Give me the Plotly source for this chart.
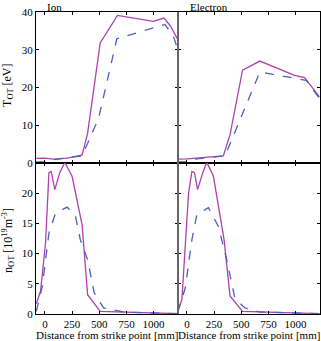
import plotly.graph_objects as go
from plotly.subplots import make_subplots

# Ion temperature
ion_T_sim_x = [-79, -9, 82, 204, 342, 393, 509, 668, 997, 1095, 1156, 1226]
ion_T_sim_y = [1.2, 1.3, 1.05, 1.3, 2.1, 7.9, 31.8, 39.1, 37.5, 38.4, 36.3, 32.5]
ion_T_exp_x = [-79, 6, 82, 204, 342, 494, 662, 1104, 1180, 1226]
ion_T_exp_y = [0.3, 0.3, 0.9, 1.4, 1.9, 11.8, 32.9, 36.7, 33.8, 29.8]

# Electron temperature
el_T_sim_x = [-85, 0, 335, 397, 512, 671, 991, 1083, 1220]
el_T_sim_y = [1.05, 1.1, 1.9, 7.5, 24.6, 27.0, 23.2, 22.6, 17.5]
el_T_exp_x = [-85, 0, 92, 351, 671, 1098, 1220]
el_T_exp_y = [0.3, 0.3, 1.1, 1.9, 24.1, 21.9, 17.1]

# Ion density
ion_n_sim_x = [-79, -40, 6, 37, 58, 91, 137, 183, 250, 342, 393, 509, 1226]
ion_n_sim_y = [1.7, 3.8, 11.8, 23.4, 23.6, 20.6, 23.4, 25.1, 22.8, 14.8, 3.2, 0.44, 0.05]
ion_n_exp_x = [-79, -24, 37, 98, 204, 281, 326, 393, 454, 540, 723, 1226]
ion_n_exp_y = [0.44, 4.6, 13.4, 16.7, 17.7, 16.2, 12.3, 9.0, 3.5, 1.0, 0.33, 0.05]

# Electron density
el_n_sim_x = [-85, -46, 15, 46, 70, 98, 146, 183, 244, 342, 397, 512, 1220]
el_n_sim_y = [0.4, 2.4, 20.0, 23.6, 23.4, 20.6, 23.4, 25.1, 22.8, 12.3, 3.0, 0.44, 0.05]
el_n_exp_x = [-85, -15, 46, 92, 198, 290, 366, 442, 534, 671, 1220]
el_n_exp_y = [0.3, 4.3, 12.3, 16.5, 17.6, 14.5, 9.0, 2.6, 1.0, 0.33, 0.05]

x_ticks = [0, 250, 500, 750, 1000]
T_ticks = [0, 10, 20, 30, 40]
n_ticks = [0, 5, 10, 15, 20]

SIM_COLOR = "#b040b0"
EXP_COLOR = "#4a5fc0"
FONT = "Liberation Serif"

fig = make_subplots(rows=2, cols=2, horizontal_spacing=0, vertical_spacing=0)

panels = [
    (1, 1, ion_T_sim_x, ion_T_sim_y, ion_T_exp_x, ion_T_exp_y),
    (1, 2, el_T_sim_x, el_T_sim_y, el_T_exp_x, el_T_exp_y),
    (2, 1, ion_n_sim_x, ion_n_sim_y, ion_n_exp_x, ion_n_exp_y),
    (2, 2, el_n_sim_x, el_n_sim_y, el_n_exp_x, el_n_exp_y),
]
for r, c, sx, sy, ex, ey in panels:
    fig.add_trace(go.Scatter(x=sx, y=sy, mode="lines",
                             line=dict(color=SIM_COLOR, width=1.3),
                             showlegend=False), row=r, col=c)
    fig.add_trace(go.Scatter(x=ex, y=ey, mode="lines",
                             line=dict(color=EXP_COLOR, width=1.3, dash="dash"),
                             showlegend=False), row=r, col=c)

for r in (1, 2):
    for c in (1, 2):
        fig.update_xaxes(row=r, col=c, range=[-82, 1225], tickvals=x_ticks,
                         showticklabels=(r == 2), ticks="inside", ticklen=3,
                         tickcolor="black", showline=True, linecolor="black",
                         linewidth=1, mirror="ticks", showgrid=False, zeroline=False,
                         automargin=False,
                         tickfont=dict(family=FONT, size=11, color="black"))
        if r == 1:
            fig.update_yaxes(row=r, col=c, range=[0, 40], tickvals=T_ticks)
        else:
            fig.update_yaxes(row=r, col=c, range=[0, 25], tickvals=n_ticks)
        fig.update_yaxes(row=r, col=c, showticklabels=(c == 1), ticks="inside",
                         ticklen=3, tickcolor="black", showline=True,
                         linecolor="black", linewidth=1, mirror="ticks",
                         showgrid=False, zeroline=False, automargin=False,
                         tickfont=dict(family=FONT, size=11, color="black"))

ann_font = dict(family=FONT, size=11, color="black")
# x titles
for xc in (0.25, 0.75):
    fig.add_annotation(text="Distance from strike point [mm]", xref="paper", yref="paper",
                       x=xc, y=-0.07, xanchor="center", yanchor="middle",
                       showarrow=False, font=ann_font)
# y titles
fig.add_annotation(text="T<sub>OT</sub> [eV]", xref="paper", yref="paper",
                   x=-0.099, y=0.758, xanchor="center", yanchor="middle", textangle=-90,
                   showarrow=False, font=dict(family=FONT, size=12, color="black"))
fig.add_annotation(text="n<sub>OT</sub> [10<sup>19</sup>m<sup>-3</sup>]", xref="paper", yref="paper",
                   x=-0.099, y=0.245, xanchor="center", yanchor="middle", textangle=-90,
                   showarrow=False, font=dict(family=FONT, size=12, color="black"))

# panel titles
fig.add_annotation(text="Ion", xref="paper", yref="paper", x=0.032, y=1,
                   xanchor="left", yanchor="bottom", showarrow=False, yshift=-3,
                   font=ann_font)
fig.add_annotation(text="Electron", xref="paper", yref="paper", x=0.535, y=1,
                   xanchor="left", yanchor="bottom", showarrow=False, yshift=-3,
                   font=ann_font)

# thick separator between columns
fig.add_shape(type="line", xref="paper", yref="paper", x0=0.5, x1=0.5, y0=0, y1=1,
              line=dict(color="#666666", width=2))

fig.update_layout(width=321, height=341, margin=dict(l=36, r=1, t=12, b=27),
                  plot_bgcolor="white", paper_bgcolor="white",
                  font=dict(family=FONT, color="black"))

fig.write_html("out.html", config={"displayModeBar": False},
               post_script="document.body.style.margin='0';document.body.style.overflow='hidden';")
